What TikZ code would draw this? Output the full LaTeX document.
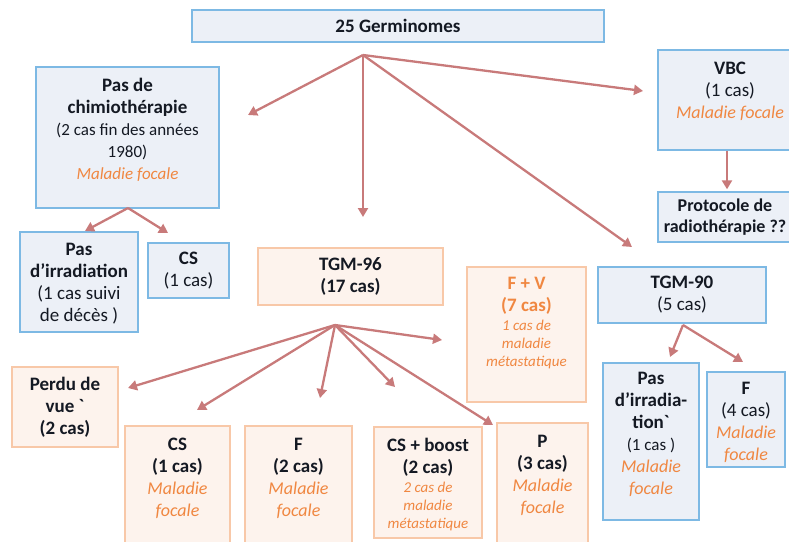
\documentclass[tikz,border=0pt]{standalone}
\usepackage{fontspec}
\setmainfont{Carlito}
\usetikzlibrary{positioning,arrows.meta}

\definecolor{bluefill}{RGB}{236,240,247}
\definecolor{blueline}{RGB}{125,185,228}
\definecolor{orfill}{RGB}{253,243,237}
\definecolor{orline}{RGB}{248,200,168}
\definecolor{ortext}{RGB}{240,135,65}
\definecolor{arrowc}{RGB}{200,122,122}
\definecolor{inktext}{RGB}{20,25,35}

\newcommand\mal[2][18]{{\fontsize{#1}{22}\selectfont\itshape\color{ortext}#2}}
\newcommand\sz[2]{{\fontsize{#1}{22}\selectfont #2}}

\begin{document}
\begin{tikzpicture}[x=1pt, y=-1pt,
  every node/.style = {align=center, text=inktext, font=\fontsize{19}{22}\selectfont},
  bluebox/.style = {draw=blueline, fill=bluefill, line width=1.4pt, inner sep=0pt},
  orbox/.style = {draw=orline, fill=orfill, line width=1.4pt, inner sep=0pt},
  txt/.style = {inner sep=0pt},
  arr/.style = {draw=arrowc, line width=2.3pt, -{Triangle[length=9pt,width=10pt]}}]
  \useasboundingbox (0,0) rectangle (789,541);

  % top level
  \node[bluebox, minimum width=412, minimum height=32] (germ) at (398,26) {\textbf{25 Germinomes}};

  \node[bluebox, minimum width=183, minimum height=141] (nochemo) at (127.5,137.5) {};
  \node[txt, below=12pt of nochemo.north] (nochemo-t) {\textbf{Pas de}\\ \textbf{chimiothérapie}\\
    \sz{17}{(2 cas fin des années}\\ \sz{17}{1980)}\\ \mal[17]{Maladie focale}};

  \node[bluebox, minimum width=144, minimum height=100] (vbc) at (730,100) {};
  \node[txt, below=13pt of vbc.north] (vbc-t) {\textbf{VBC}\\ (1 cas)\\ \mal{Maladie focale}};

  \node[bluebox, minimum width=134, minimum height=50, font=\fontsize{18}{21}\selectfont] (proto) at (725,217)
    {\textbf{Protocole de}\\ \textbf{radiothérapie ??}};

  % second level
  \node[bluebox, minimum width=118, minimum height=100] (nirr) at (79,282) {};
  \node[txt, below=12pt of nirr.north] (nirr-t) {\textbf{Pas}\\ \textbf{d’irradiation}\\ (1 cas suivi\\ de décès )};

  \node[bluebox, minimum width=81, minimum height=55] (csl) at (188.5,270.5) {\textbf{CS}\\ (1 cas)};

  \node[orbox, minimum width=185, minimum height=57] (tgm96) at (350.5,276.5) {\textbf{TGM-96}\\ \textbf{(17 cas)}};

  \node[orbox, minimum width=119, minimum height=135] (fv) at (526.5,334.5) {};
  \node[txt, text=ortext, below=11pt of fv.north] (fv-t) {\textbf{F + V}\\ \textbf{(7 cas)}\\[-3pt]
    \mal[15]{1 cas de}\\[-4pt] \mal[15]{maladie}\\[-4pt] \mal[15]{métastatique}};

  \node[bluebox, minimum width=168, minimum height=56] (tgm90) at (682,295) {\textbf{TGM-90}\\ (5 cas)};

  % third level
  \node[orbox, minimum width=106, minimum height=80] (perdu) at (65,407) {\textbf{Perdu de}\\ \textbf{vue \textasciigrave}\\ \textbf{(2 cas)}};

  \node[orbox, minimum width=105, minimum height=119] (csb) at (177.5,485.5) {};
  \node[txt, below=13pt of csb.north] (csb-t) {\textbf{CS}\\ \textbf{(1 cas)}\\ \mal{Maladie}\\ \mal{focale}};

  \node[orbox, minimum width=107, minimum height=119] (f2) at (298.5,485.5) {};
  \node[txt, below=13pt of f2.north] (f2-t) {\textbf{F}\\ \textbf{(2 cas)}\\ \mal{Maladie}\\ \mal{focale}};

  \node[orbox, minimum width=108, minimum height=111] (boost) at (428,482.5) {};
  \node[txt, below=12pt of boost.north] (boost-t) {\textbf{CS + boost}\\ \textbf{(2 cas)}\\[-3pt]
    \mal[15]{2 cas de}\\[-4pt] \mal[15]{maladie}\\[-4pt] \mal[15]{métastatique}};

  \node[orbox, minimum width=91, minimum height=122] (p3) at (542.5,484) {};
  \node[txt, below=13pt of p3.north] (p3-t) {\textbf{P}\\ \textbf{(3 cas)}\\ \mal{Maladie}\\ \mal{focale}};

  \node[bluebox, minimum width=96, minimum height=157] (nirr2) at (651,441.5) {};
  \node[txt, below=10pt of nirr2.north] (nirr2-t) {\textbf{Pas}\\ \textbf{d’irradia-}\\ \textbf{tion\textasciigrave}\\
    \sz{17}{(1 cas )}\\ \mal{Maladie}\\ \mal{focale}};

  \node[bluebox, minimum width=78, minimum height=95] (f4) at (746,419.5) {};
  \node[txt, below=11pt of f4.north] (f4-t) {\textbf{F}\\ (4 cas)\\ \mal{Maladie}\\ \mal{focale}};

  % arrow hubs and free ends
  \coordinate (germ-hub) at (363,55);
  \coordinate (to-nochemo) at (248,115);
  \coordinate (to-tgm96) at (363,217);
  \coordinate (to-vbc) at (643,91);
  \coordinate (to-tgm90) at (632,247);
  \coordinate (nochemo-hub) at (128,208);
  \coordinate (to-nirr) at (85,231);
  \coordinate (to-csl) at (168,233);
  \coordinate (tgm96-hub) at (335,325);
  \coordinate (to-fv) at (442,340);
  \coordinate (to-perdu) at (128,388);
  \coordinate (to-csb) at (197,410);
  \coordinate (to-f2) at (320,398);
  \coordinate (to-boost) at (395,387);
  \coordinate (to-p3) at (493,425);
  \coordinate (tgm90-hub) at (683,325);
  \coordinate (to-nirr2) at (670,357);
  \coordinate (to-f4) at (743,362);

  \foreach \t in {to-nochemo,to-tgm96,to-vbc,to-tgm90}
    \draw[arr] (germ-hub) -- (\t);
  \foreach \t in {to-nirr,to-csl}
    \draw[arr] (nochemo-hub) -- (\t);
  \foreach \t in {to-fv,to-perdu,to-csb,to-f2,to-boost,to-p3}
    \draw[arr] (tgm96-hub) -- (\t);
  \foreach \t in {to-nirr2,to-f4}
    \draw[arr] (tgm90-hub) -- (\t);
  \draw[arr] ([xshift=-3pt]vbc.south) -- ([xshift=2pt,yshift=2pt]proto.north);
\end{tikzpicture}
\end{document}
